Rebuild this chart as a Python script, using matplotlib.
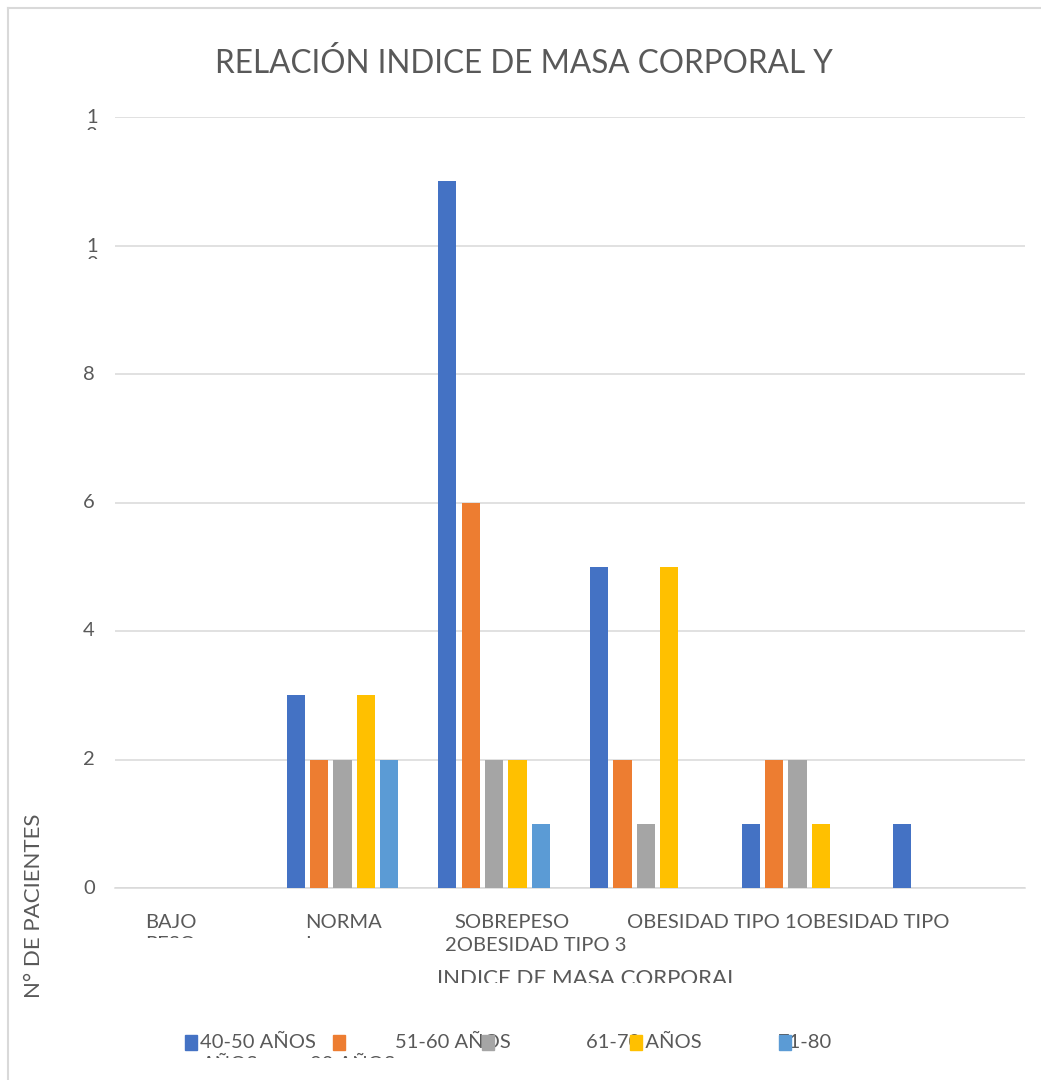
import matplotlib
matplotlib.use("Agg")
import matplotlib.pyplot as plt
from matplotlib.transforms import Bbox, TransformedBbox
from matplotlib.patches import Rectangle
from matplotlib.lines import Line2D

# Body-mass-index categories and patient counts per age group
categories = ["BAJO PESO", "NORMAL", "SOBREPESO", "OBESIDAD TIPO 1",
              "OBESIDAD TIPO 2", "OBESIDAD TIPO 3"]
series_names = ["40-50 AÑOS", "51-60 AÑOS", "61-70 AÑOS", "71-80 AÑOS", "80 AÑOS"]
v_40_50 = [0, 3, 11, 5, 1, 1]
v_51_60 = [0, 2, 6, 2, 2, 0]
v_61_70 = [0, 2, 2, 1, 2, 0]
v_71_80 = [0, 3, 2, 5, 1, 0]
v_80 = [0, 2, 1, 0, 0, 0]
y_ticks = [0, 2, 4, 6, 8, 10, 12]

series = [v_40_50, v_51_60, v_61_70, v_71_80, v_80]
colors = ["#4472C4", "#ED7D31", "#A5A5A5", "#FFC000", "#5B9BD5"]

W, H = 1041, 1080
TXT = "#595959"
GRID = "#D9D9D9"
FONT = ["Lato", "DejaVu Sans"]

fig = plt.figure(figsize=(W / 100, H / 100), dpi=100)


def fx(px):
    return px / W


def fy(py):
    return 1 - py / H


def clipped(x, y, s, clip_bottom, **kw):
    """Place text in pixel coordinates, cut off below clip_bottom (pixels)."""
    t = fig.text(fx(x), fy(y), s, **kw)
    box = TransformedBbox(Bbox.from_extents(0, fy(clip_bottom), 1, 1), fig.transFigure)
    t.set_clip_box(box)
    t.set_clip_on(True)
    return t


# Chart-area frame (top and left edges visible)
fig.add_artist(Line2D([fx(8), fx(8)], [fy(8), 0], color=GRID, lw=1.5))
fig.add_artist(Line2D([fx(8), 1], [fy(8), fy(8)], color=GRID, lw=1.5))

ax = fig.add_axes([fx(115), fy(888), fx(1025) - fx(115), fy(117) - fy(888)])
ax.set_xlim(-0.5, len(categories) - 0.5)
ax.set_ylim(0, 12)

step, width = 0.154, 0.119
for k, (vals, col) in enumerate(zip(series, colors)):
    xs = [i + (k - 2) * step for i in range(len(categories))]
    ax.bar(xs, vals, width=width, color=col, zorder=3)

ax.set_yticks(y_ticks)
ax.yaxis.grid(True, color=GRID, lw=1.1, zorder=0)
ax.set_axisbelow(True)
ax.tick_params(left=False, bottom=False, labelleft=False, labelbottom=False)
for side in ["left", "right", "top"]:
    ax.spines[side].set_visible(False)
ax.spines["bottom"].set_color(GRID)
ax.spines["bottom"].set_linewidth(1.1)
ax.set_xticks([])

# Y tick labels (two-digit labels wrap and get cut off)
fs_tick = 14.5
for v in y_ticks:
    py = 888 - v * (888 - 117) / 12
    if v < 10:
        fig.text(fx(95), fy(py), str(v), ha="right", va="center",
                 fontsize=fs_tick, color=TXT, family=FONT)
    else:
        s = str(v)
        clipped(92, py - 8, s[0], py + 13, ha="center", va="top",
                fontsize=fs_tick, color=TXT, family=FONT)
        clipped(92, py + 10, s[1], py + 13, ha="center", va="top",
                fontsize=fs_tick, color=TXT, family=FONT)

# Category labels as laid out on the axis (wrapped / overlapping)
fs_cat = 14.5
kw = dict(fontsize=fs_cat, color=TXT, family=FONT, va="baseline")
clipped(145, 928, "BAJO", 938, ha="left", **kw)
clipped(145, 950, "PESO", 938, ha="left", **kw)
clipped(305, 928, "NORMA", 938, ha="left", **kw)
clipped(305, 950, "L", 938, ha="left", **kw)
fig.text(fx(512), fy(928), "SOBREPESO", ha="center", **kw)
fig.text(fx(788), fy(928), "OBESIDAD TIPO 1OBESIDAD TIPO", ha="center", **kw)
fig.text(fx(536), fy(951), "2OBESIDAD TIPO 3", ha="center", **kw)

# Axis titles
clipped(588, 969, "INDICE DE MASA CORPORAL", 983, ha="center", va="top",
        fontsize=16, color=TXT, family=FONT)
fig.text(fx(34), fy(906), "N° DE PACIENTES", rotation=90, ha="center", va="center",
         fontsize=16, color=TXT, family=FONT)

# Title
fig.text(fx(524), fy(73), "RELACIÓN INDICE DE MASA CORPORAL Y", ha="center",
         va="baseline", fontsize=22.7, color=TXT, family=FONT)

# Legend (entries wrap onto a clipped second line)
kwl = dict(fontsize=fs_cat, color=TXT, family=FONT, va="baseline", ha="left")
fig.text(fx(200), fy(1048), "40-50 AÑOS", **kwl)
fig.text(fx(395), fy(1048), "51-60 AÑOS", **kwl)
fig.text(fx(586), fy(1048), "61-70 AÑOS", **kwl)
fig.text(fx(778), fy(1048), "71-80", **kwl)
clipped(202, 1070, "AÑOS", 1058, **kwl)
clipped(310, 1070, "80 AÑOS", 1058, **kwl)
marker_x = [185, 333, 482, 630, 779]
for mx, col in zip(marker_x, colors):
    fig.add_artist(Rectangle((fx(mx), fy(1050)), fx(12), 15 / H, color=col,
                             transform=fig.transFigure, zorder=5))

fig.savefig("out.png", dpi=100)
